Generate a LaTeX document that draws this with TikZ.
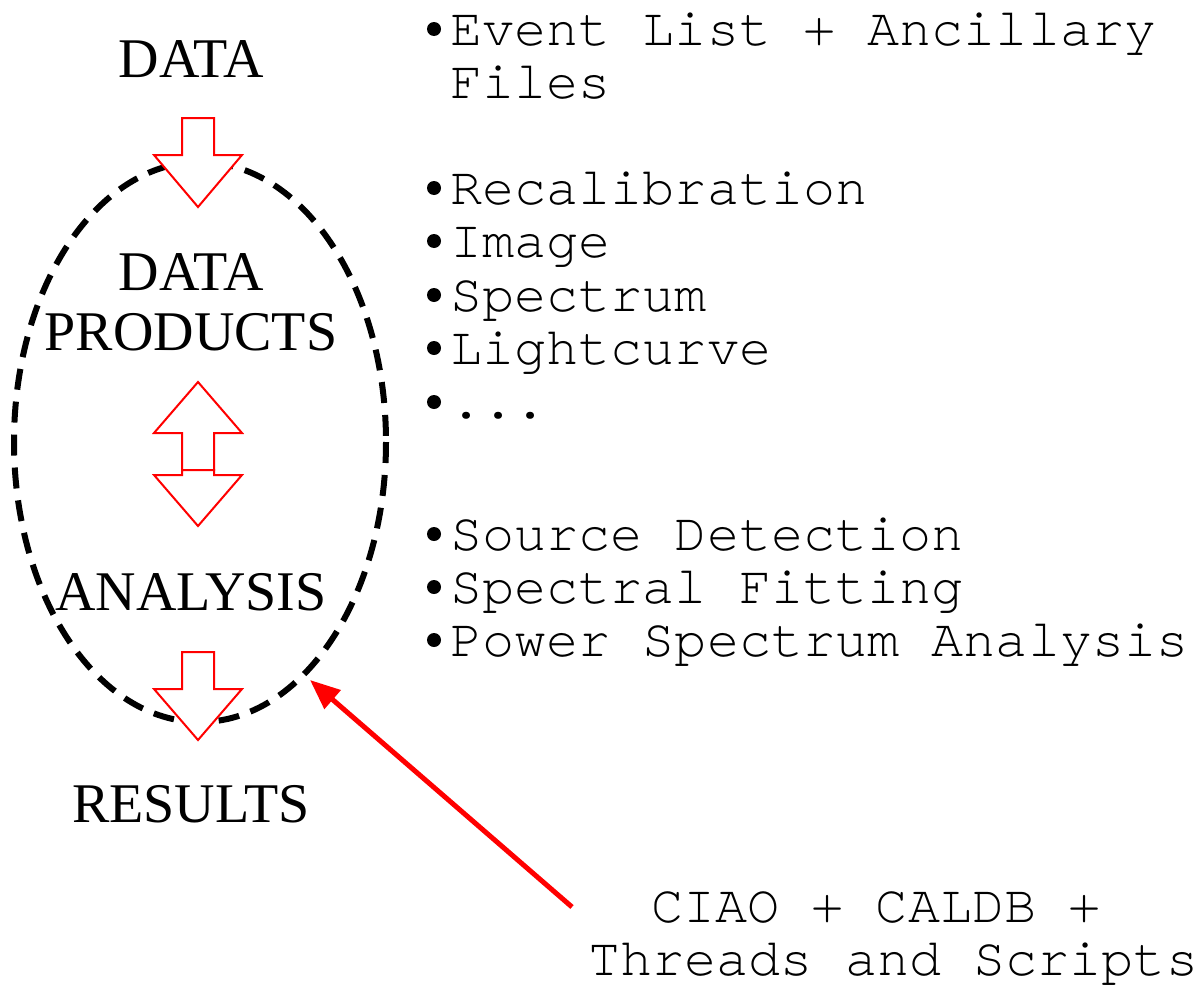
\documentclass[tikz,border=0pt]{standalone}
\usepackage{fontspec}
\setmainfont{Liberation Serif}
\setmonofont{TeX Gyre Cursor}
\usetikzlibrary{arrows.meta,positioning}

% hollow block arrows: #1 = centre x, #2 = shaft end, #3 = head base, #4 = tip
\newcommand{\blockdown}[4]{%
  \filldraw[block] (#1-16,#2) -- (#1+16,#2) -- (#1+16,#3) -- (#1+44,#3)
    -- (#1,#4) -- (#1-44,#3) -- (#1-16,#3) -- cycle;}

\begin{document}
\begin{tikzpicture}[x=1pt,y=-1pt,
    block/.style={draw=red,fill=white,line width=2pt,miter limit=20},
    stage/.style={font=\fontsize{56}{60}\selectfont,anchor=base,inner sep=0pt},
    item/.style={font=\fontsize{53.5}{53}\ttfamily,anchor=base west,inner sep=0pt}]

  \useasboundingbox (0,0) rectangle (1197,985);

  % the processing loop
  \draw[line width=6pt,dash pattern=on 21pt off 12pt] (200,442) ellipse [x radius=186, y radius=280];

  \node[stage] (data)     at (191,77)  {DATA};
  \node[stage] (products) at (191,290) {DATA};
  \node[stage] (products2) at (191,350) {PRODUCTS};
  \node[stage] (analysis) at (191,610) {ANALYSIS};
  \node[stage] (results)  at (191,822) {RESULTS};

  \blockdown{198}{118}{155}{207}
  \blockdown{198}{470}{433}{382}
  \blockdown{198}{470}{475}{526}
  \blockdown{198}{652}{689}{740}

  % what each stage holds
  \foreach \name/\txt/\y in {ev/Event List + Ancillary/45, recal/Recalibration/204,
      img/Image/257, spec/Spectrum/311, lc/Lightcurve/364,
      src/Source Detection/550, fit/Spectral Fitting/603, pow/Power Spectrum Analysis/656}
  {
    \coordinate (b\name) at (434,\y-16);
    \fill (b\name) circle [radius=7pt];
    \node[item] (\name) at (450,\y) {\txt};
  }
  \node[item] (files) at (450,98) {Files};
  \coordinate (bmore) at (434,402);
  \fill (bmore) circle [radius=7pt];
  \node[item] (more) at (450,418) {...};

  \node[item] (tools)  at (651,922) {CIAO + CALDB +};
  \node[item] (tools2) at (588,975) {Threads and Scripts};

  \coordinate (toolsfoot) at (572,907);
  \coordinate (looptip) at (310,680);
  \draw[red,line width=5pt,-{Triangle[length=30pt,width=24pt]}] (toolsfoot) -- (looptip);

\end{tikzpicture}
\end{document}
